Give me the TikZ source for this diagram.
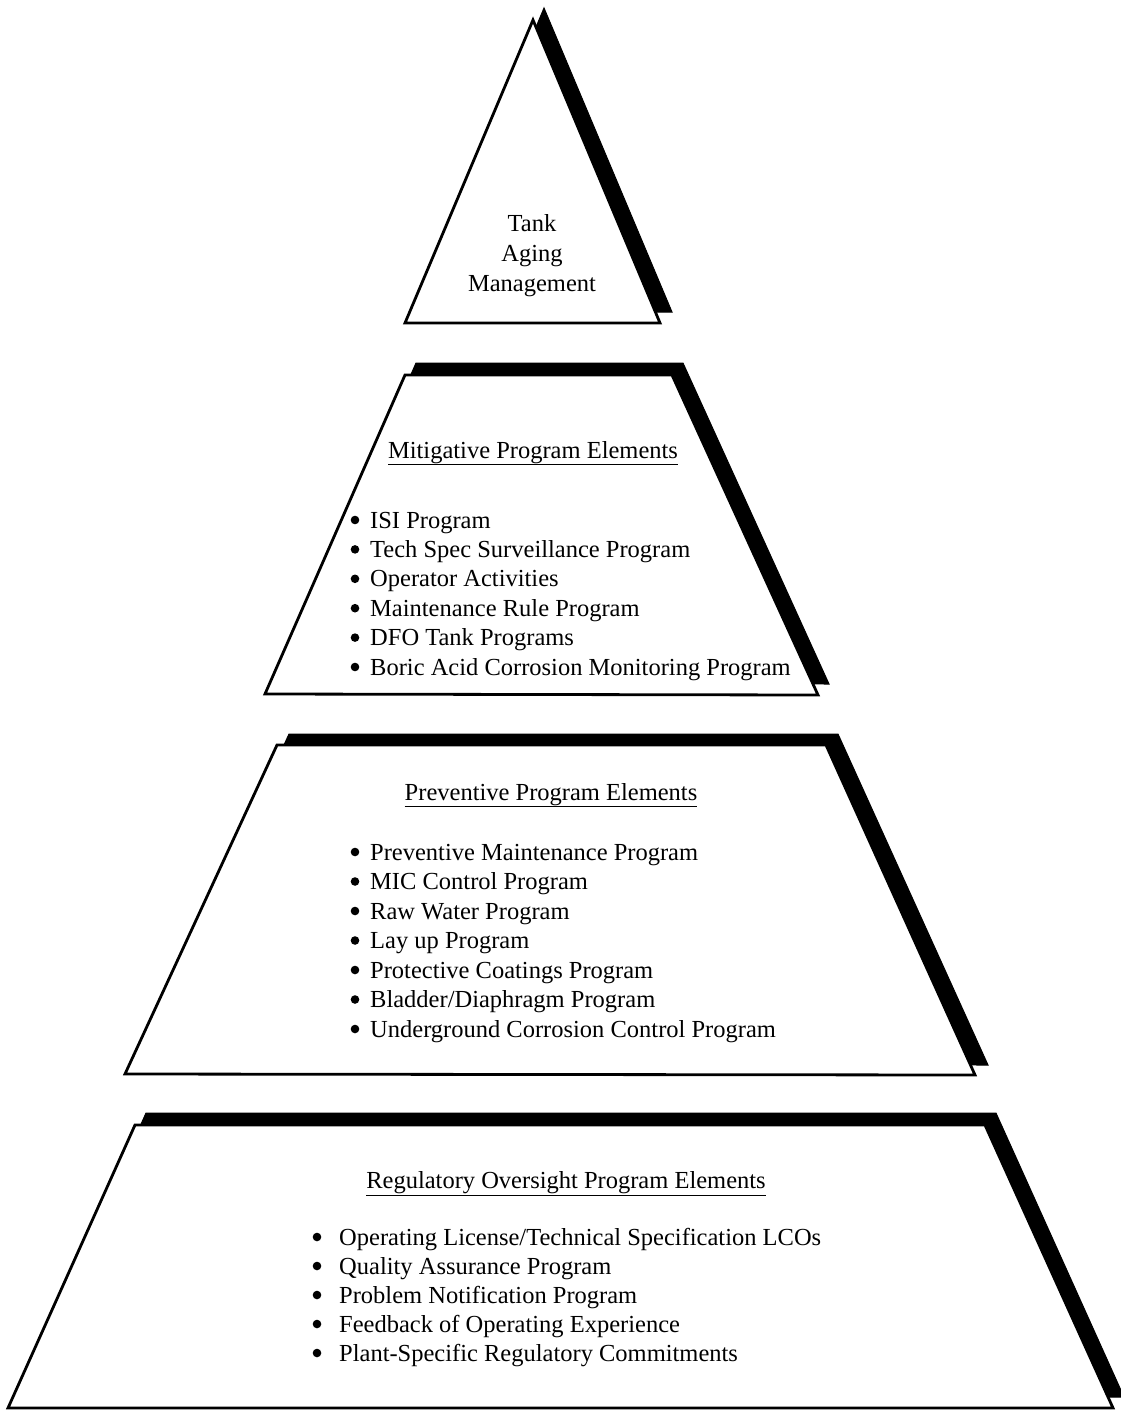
\documentclass[tikz,border=0pt]{standalone}
\usepackage{fontspec}
\setmainfont{Liberation Serif}
\begin{document}
\begin{tikzpicture}[x=1pt,y=-1pt,
  shade/.style={fill=black, draw=black, line width=1pt, line join=miter},
  front/.style={draw=black, fill=white, line width=2.8pt, line join=miter},
  txt/.style={font=\fontsize{24.5}{30}\selectfont, inner sep=0pt, anchor=base},
  item/.style={font=\fontsize{24.5}{30}\selectfont, inner sep=0pt, anchor=base west},
  dot/.style={fill=black}]
\useasboundingbox (0,0) rectangle (1120,1411);

% ---------- top triangle ----------
\fill[shade] (544,8) -- (672,312) -- (417,312) -- cycle;
\draw[front] (533,20) -- (660,323) -- (405,323) -- cycle;
\node[txt] (t1) at (532,231) {Tank};
\node[txt] (t2) at (532,261) {Aging};
\node[txt] (t3) at (532,291) {Management};

% ---------- mitigative ----------
\fill[shade] (416,363) -- (683,363) -- (829,684) -- (276,683) -- cycle;
\draw[front] (405,375) -- (672,375) -- (818,695) -- (265,694) -- cycle;
\node[txt] (mh) at (533,458) {\underline{Mitigative Program Elements}};
\foreach \t [count=\i from 0] in {ISI Program, Tech Spec Surveillance Program, Operator Activities, Maintenance Rule Program, DFO Tank Programs, Boric Acid Corrosion Monitoring Program}{
  \node[item] (m\i) at (370,528+29.4*\i) {\t};
  \fill[dot] (355,528+29.4*\i-8) circle (4.3pt);
}

% ---------- preventive ----------
\fill[shade] (289,734) -- (838,734) -- (988,1065) -- (138,1064) -- cycle;
\draw[front] (277,745) -- (826,745) -- (975,1075) -- (125,1074) -- cycle;
\node[txt] (ph) at (551,800) {\underline{Preventive Program Elements}};
\foreach \t [count=\i from 0] in {Preventive Maintenance Program, MIC Control Program, Raw Water Program, Lay up Program, Protective Coatings Program, Bladder/Diaphragm Program, Underground Corrosion Control Program}{
  \node[item] (p\i) at (370,860+29.5*\i) {\t};
  \fill[dot] (355,860+29.5*\i-8) circle (4.3pt);
}

% ---------- regulatory ----------
\fill[shade] (146,1113) -- (996,1113) -- (1124,1397) -- (19,1397) -- cycle;
\draw[front] (135,1125) -- (985,1125) -- (1113,1408) -- (8,1408) -- cycle;
\node[txt] (rh) at (566,1188) {\underline{Regulatory Oversight Program Elements}};
\foreach \t [count=\i from 0] in {Operating License/Technical Specification LCOs, Quality Assurance Program, Problem Notification Program, Feedback of Operating Experience, Plant-Specific Regulatory Commitments}{
  \node[item] (r\i) at (339,1245+29*\i) {\t};
  \fill[dot] (317,1245+29*\i-8) circle (4.3pt);
}
\end{tikzpicture}
\end{document}
